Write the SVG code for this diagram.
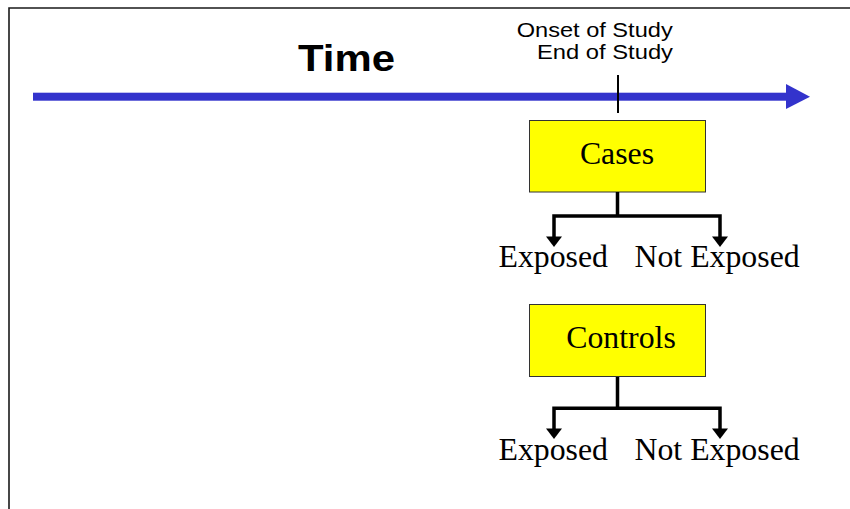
<svg xmlns="http://www.w3.org/2000/svg" width="850" height="509" viewBox="0 0 850 509">
  <defs>
    <style>
      .frame { stroke: #1a1a1a; stroke-width: 1.6; fill: none; }
      .sans { font-family: "Liberation Sans", Arial, sans-serif; fill: #000; }
      .serif { font-family: "Liberation Serif", "Times New Roman", serif; font-size: 31.8px; fill: #000; }
      .box { fill: #ffff00; stroke: #333333; stroke-width: 1; }
      .wire { stroke: #000; stroke-width: 3.5; fill: none; }
      .head { fill: #000; }
    </style>
  </defs>

  <rect width="850" height="509" fill="#ffffff"/>

  <!-- slide frame (top and left edges) -->
  <path class="frame" d="M9,509 V8 H850"/>

  <!-- time axis -->
  <g id="timeline">
    <rect x="33" y="92.7" width="754" height="8" fill="#3333cc"/>
    <polygon points="786,84 786,109 810,96.7" fill="#3333cc"/>
    <text class="sans" x="298" y="70.7" font-size="37.5" font-weight="bold" textLength="97" lengthAdjust="spacingAndGlyphs">Time</text>
  </g>

  <!-- study marker -->
  <g id="study-marker">
    <line x1="618" y1="75" x2="618" y2="113" stroke="#000" stroke-width="2"/>
    <text class="sans" x="516.7" y="37" font-size="21" textLength="156" lengthAdjust="spacingAndGlyphs">Onset of Study</text>
    <text class="sans" x="537" y="59" font-size="21" textLength="136" lengthAdjust="spacingAndGlyphs">End of Study</text>
  </g>

  <!-- cases -->
  <g id="cases">
    <rect class="box" x="529.5" y="120.5" width="176" height="71.5"/>
    <text class="serif" x="617" y="164" text-anchor="middle">Cases</text>
  </g>
  <g id="cases-exposed">
    <text class="serif" x="498.5" y="267">Exposed</text>
  </g>
  <g id="cases-not-exposed">
    <text class="serif" x="634.5" y="267">Not Exposed</text>
  </g>

  <!-- controls -->
  <g id="controls">
    <rect class="box" x="529.5" y="304.5" width="176" height="72"/>
    <text class="serif" x="621" y="348" text-anchor="middle">Controls</text>
  </g>
  <g id="controls-exposed">
    <text class="serif" x="498.5" y="460">Exposed</text>
  </g>
  <g id="controls-not-exposed">
    <text class="serif" x="634.5" y="460">Not Exposed</text>
  </g>

  <!-- branch connectors -->
  <g id="connectors">
    <path class="wire" d="M617.5,192 V216 M554,237 V216 H720 V237"/>
    <polygon class="head" points="546,236.5 562,236.5 554,247"/>
    <polygon class="head" points="712,236.5 728,236.5 720,247"/>

    <path class="wire" d="M617.5,377 V408.3 M554,429 V408.3 H720 V429"/>
    <polygon class="head" points="546,428.5 562,428.5 554,439"/>
    <polygon class="head" points="712,428.5 728,428.5 720,439"/>
  </g>
</svg>
